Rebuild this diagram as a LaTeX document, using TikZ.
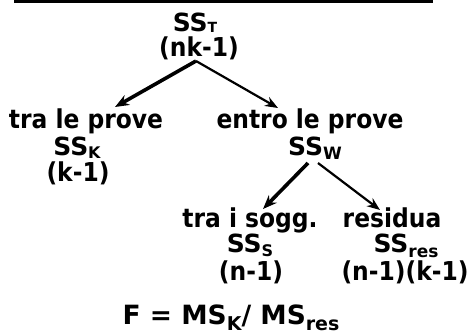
\documentclass[tikz,border=0pt]{standalone}
\usepackage{fontspec}
\setmainfont{DejaVu Sans}
\newfontfamily\condfont{DejaVu Sans Condensed}[BoldFont={DejaVu Sans Condensed Bold}]
\usetikzlibrary{arrows.meta}
% lowered subscript: #1 size, #2 drop, #3 text
\newcommand{\sbs}[3]{\raisebox{-#2pt}{\fontsize{#1}{#1}\selectfont #3}}
\tikzset{
  word/.style={anchor=base, inner sep=0pt, font=\condfont\fontsize{26}{30}\selectfont\bfseries},
  ssline/.style={anchor=base, inner sep=0pt, font=\fontsize{25}{30}\selectfont\bfseries},
  big/.style={anchor=base, inner sep=0pt, font=\fontsize{26.5}{32}\selectfont\bfseries},
  heavy/.style={line width=3.6pt, -{Stealth[length=14pt,width=11pt]}},
  light/.style={line width=2.2pt, -{Stealth[length=13pt,width=10pt]}}
}
\begin{document}
\begin{tikzpicture}[x=1pt,y=-1pt]
\useasboundingbox (0,0) rectangle (476,332);
% rule across the top
\draw[line width=3pt] (14,1.5) -- (433,1.5);
% total
\node[ssline] (sst) at (195,31) {SS\sbs{14}{1}{T}};
\node[word] (dft) at (199,56) {(nk-1)};
% first split
\node[word] (tlp) at (86,128) {tra le prove};
\node[word] (elp) at (310,128) {entro le prove};
\node[ssline] (ssk) at (77,155) {SS\sbs{16}{3}{K}};
\node[ssline] (ssw) at (315,155) {SS\sbs{17}{4}{W}};
\node[word] (dfk) at (78,181) {(k-1)};
% second split
\node[word] (tis) at (250,227) {tra i sogg.};
\node[word] (res) at (392,227) {residua};
\node[ssline] (sss) at (250,252) {SS\sbs{16}{4}{S}};
\node[ssline] (ssr) at (406,252) {SS\sbs{17}{5}{res}};
\node[word] (dfs) at (251,280) {(n-1)};
\node[word] (dfr) at (405,280) {(n-1)(k-1)};
% F ratio
\node[big] (fr) at (231,324) {F = MS\sbs{19}{6}{K}/ MS\sbs{19}{6}{res}};
% connectors
\coordinate (o1) at (196,61);
\coordinate (e1) at (115,107);
\coordinate (e2) at (278,108);
\coordinate (o2) at (308,163);
\coordinate (o3) at (318,163);
\coordinate (e3) at (263,209);
\coordinate (e4) at (380,210);
\draw[heavy] (o1) -- (e1);
\draw[light] (o1) -- (e2);
\draw[heavy] (o2) -- (e3);
\draw[light] (o3) -- (e4);
\end{tikzpicture}
\end{document}
